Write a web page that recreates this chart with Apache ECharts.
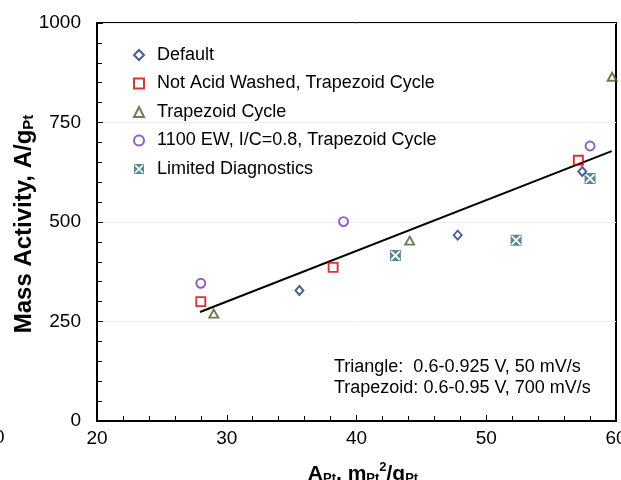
<!DOCTYPE html>
<html><head><meta charset="utf-8">
<script src="https://cdn.jsdelivr.net/npm/echarts@6/dist/echarts.min.js"></script>
<style>html,body{margin:0;padding:0;background:#fff}#c{width:621px;height:480px}</style>
</head><body><div id="c"></div>
<script>
var FONT = 'Liberation Sans, Arial, sans-serif';
var xTicks = [20, 30, 40, 50, 60];
var yTicks = [0, 250, 500, 750, 1000];
var seriesNames = ['Default', 'Not Acid Washed, Trapezoid Cycle', 'Trapezoid Cycle', '1100 EW, I/C=0.8, Trapezoid Cycle', 'Limited Diagnostics'];
var defaultX = [35.6, 47.8, 57.4];
var defaultY = [328, 467, 627];
var notAcidX = [28.0, 38.2, 57.1];
var notAcidY = [300, 386, 655];
var trapX = [29.0, 44.1, 59.7];
var trapY = [270, 453, 865];
var ewX = [28.0, 39.0, 58.0];
var ewY = [346, 501, 691];
var limitedX = [43.0, 52.3, 58.0];
var limitedY = [416, 454, 609];
var fitX = [27.94, 59.67];
var fitY = [274, 678];
var noteLines = ['Triangle:  0.6-0.925 V, 50 mV/s', 'Trapezoid: 0.6-0.95 V, 700 mV/s'];

function pts(xs, ys) { return xs.map(function (x, i) { return [x, ys[i]]; }); }
var xSquare = 'path://M0,0L14,0L14,14L0,14Z M1,1L1,13L13,13L13,1Z M2.6,1L11.4,1L7,5.4Z M13,2.6L13,11.4L8.6,7Z M11.4,13L2.6,13L7,8.6Z M1,11.4L1,2.6L5.4,7Z';
var hollow = function (c) { return { color: 'rgba(0,0,0,0)', borderColor: c, borderWidth: 1.9 }; };

var chart = echarts.init(document.getElementById('c'), null, { renderer: 'canvas' });
chart.setOption({
  animation: false,
  textStyle: { fontFamily: FONT },
  grid: { left: 97, right: 5, top: 23, bottom: 59, outerBoundsMode: 'none', containLabel: false, show: true, borderColor: '#000', borderWidth: 2, backgroundColor: 'transparent' },
  xAxis: {
    type: 'value', min: xTicks[0], max: xTicks[xTicks.length - 1], interval: 10,
    axisLine: { lineStyle: { color: '#000', width: 2 } },
    axisTick: { inside: true, length: 6, lineStyle: { color: '#000', width: 1 } },
    minorTick: { show: true, splitNumber: 5, length: 5, lineStyle: { color: '#000', width: 1 } },
    splitLine: { show: false },
    axisLabel: { color: '#000', fontSize: 19, fontFamily: FONT, margin: 8, formatter: function (v) { return String(v); } }
  },
  yAxis: {
    type: 'value', min: yTicks[0], max: yTicks[yTicks.length - 1], interval: 250,
    axisLine: { show: true, lineStyle: { color: '#000', width: 2 } },
    axisTick: { show: true, inside: true, length: 6, lineStyle: { color: '#000', width: 1 } },
    minorTick: { show: true, splitNumber: 5, length: 5, lineStyle: { color: '#000', width: 1 } },
    splitLine: { show: true, lineStyle: { color: '#eeeeee', width: 1 } },
    axisLabel: { color: '#000', fontSize: 19, fontFamily: FONT, margin: 16, formatter: function (v) { return String(v); } }
  },
  legend: {
    orient: 'vertical', left: 133, top: 45, padding: 0, itemGap: 8.5, itemWidth: 10, itemHeight: 10,
    data: seriesNames,
    textStyle: { color: '#000', fontSize: 18, fontFamily: FONT, lineHeight: 20, padding: [0, 0, 0, 8] }
  },
  series: [
    { name: 'fit', type: 'line', data: pts(fitX, fitY), symbol: 'none', lineStyle: { color: '#000', width: 2 }, z: 1 },
    { name: seriesNames[0], type: 'scatter', data: pts(defaultX, defaultY), symbol: 'diamond', symbolSize: [8, 9], itemStyle: hollow('#1A3478'), z: 3 },
    { name: seriesNames[1], type: 'scatter', data: pts(notAcidX, notAcidY), symbol: 'rect', symbolSize: 9, itemStyle: hollow('#D00000'), z: 3 },
    { name: seriesNames[2], type: 'scatter', data: pts(trapX, trapY), symbol: 'triangle', symbolSize: [9, 8], itemStyle: hollow('#4A5E24'), z: 3 },
    { name: seriesNames[3], type: 'scatter', data: pts(ewX, ewY), symbol: 'circle', symbolSize: 9, itemStyle: hollow('#7434B0'), z: 3 },
    { name: seriesNames[4], type: 'scatter', data: pts(limitedX, limitedY), symbol: xSquare, symbolSize: 11, itemStyle: { color: '#2F6A78' }, z: 3 }
  ],
  graphic: [
    { type: 'text', x: 334, y: 367, style: { text: noteLines[0], font: '18px ' + FONT, fill: '#000', verticalAlign: 'middle' } },
    { type: 'text', x: 334, y: 388, style: { text: noteLines[1], font: '18px ' + FONT, fill: '#000', verticalAlign: 'middle' } },
    { type: 'text', x: 22, y: 224, rotation: Math.PI / 2, style: {
        text: '{a|Mass Activity, A/g}{s|Pt}', align: 'center', verticalAlign: 'middle',
        rich: { a: { fontSize: 24, fontWeight: 'bold', fontFamily: FONT, fill: '#000', lineHeight: 28, verticalAlign: 'bottom' },
                s: { fontSize: 15, fontWeight: 'bold', fontFamily: FONT, fill: '#000', lineHeight: 15, verticalAlign: 'bottom' } } } },
    { type: 'text', x: 363, y: 473, style: {
        text: '{a|A}{s|Pt}{a|, m}{s|Pt}{p|2}{a|/g}{s|Pt}', align: 'center', verticalAlign: 'middle',
        rich: { a: { fontSize: 21, fontWeight: 'bold', fontFamily: FONT, fill: '#000', lineHeight: 24, verticalAlign: 'bottom' },
                s: { fontSize: 13, fontWeight: 'bold', fontFamily: FONT, fill: '#000', lineHeight: 12, verticalAlign: 'bottom' },
                p: { fontSize: 13, fontWeight: 'bold', fontFamily: FONT, fill: '#000', lineHeight: 12, verticalAlign: 'top' } } } },
    { type: 'text', x: -6, y: 438, style: { text: '0', font: '19px ' + FONT, fill: '#000', verticalAlign: 'middle' } }
  ]
});
</script></body></html>
